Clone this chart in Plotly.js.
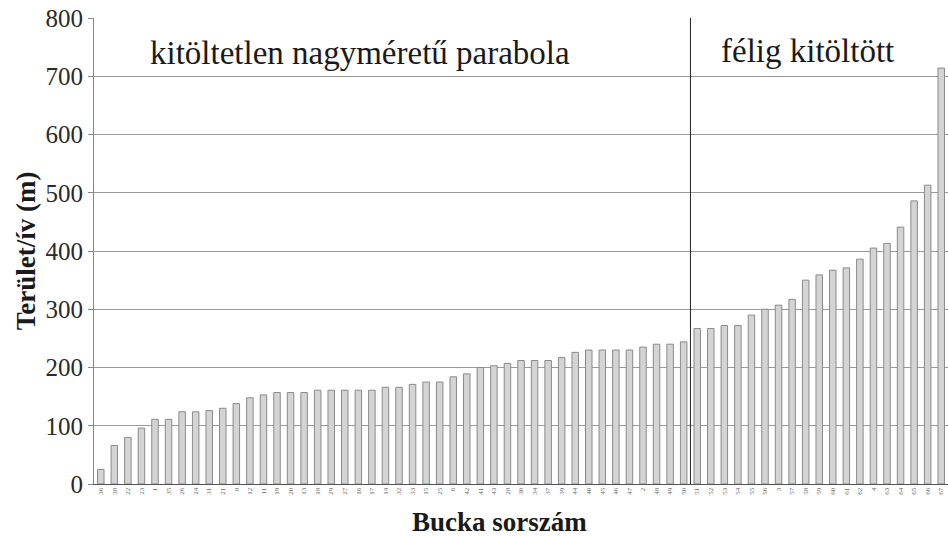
<!DOCTYPE html>
<html>
<head>
<meta charset="utf-8">
<script src="https://cdn.plot.ly/plotly-3.0.1.min.js"></script>
<style>
  html, body { margin: 0; padding: 0; background: #ffffff; }
  #chart { width: 948px; height: 536px; }
</style>
</head>
<body>
<div id="chart"></div>
<script>
// Area / arc length (m) of each dune, sorted ascending within its group
const unfilledValues = [
  25, 66, 80, 96, 111, 111, 124, 124, 126, 130, 138, 148, 153, 157, 157,
  157, 161, 161, 161, 161, 161, 166, 166, 171, 175, 175, 184, 189, 200, 203,
  207, 212, 212, 212, 217, 226, 230, 230, 230, 230, 235, 240, 240, 244
];
const halfFilledValues = [
  267, 267, 272, 272, 290, 300, 307, 317, 350, 359, 367, 371, 386, 405, 413,
  441, 486, 513, 714
];

// Dune serial numbers shown under each bar
const duneIds = [
  36, 38, 22, 23, 1, 35, 26, 24, 31, 21, 8, 12, 11, 19, 20,
  13, 18, 29, 27, 16, 17, 14, 32, 33, 15, 25, 6, 42, 41, 43,
  28, 30, 34, 37, 39, 44, 40, 45, 46, 47, 2, 48, 49, 50,
  51, 52, 53, 54, 55, 56, 3, 57, 58, 59, 60, 61, 62, 4, 63, 64, 65, 66, 67
];

const groupLabels = ["kitöltetlen nagyméretű parabola", "félig kitöltött"];
const xTitle = "Bucka sorszám";
const yTitle = "Terület/ív (m)";
const yTickValues = [0, 100, 200, 300, 400, 500, 600, 700, 800];

const values = unfilledValues.concat(halfFilledValues);
const positions = values.map((_, i) => i);
const split = unfilledValues.length - 0.5;

const serif = "Liberation Serif, Times New Roman, serif";

const trace = {
  type: "bar",
  x: positions,
  y: values,
  marker: {
    color: "#d4d4d4",
    line: { color: "#8a8a8a", width: 1 }
  },
  hoverinfo: "y"
};

const layout = {
  width: 948,
  height: 536,
  margin: { l: 94, r: 0, t: 18, b: 52 },
  paper_bgcolor: "#ffffff",
  plot_bgcolor: "#ffffff",
  bargap: 0.52,
  showlegend: false,
  font: { family: serif, color: "#1a1a1a" },
  xaxis: {
    range: [-0.5, values.length - 0.5],
    tickmode: "array",
    tickvals: positions,
    ticktext: duneIds.map(String),
    tickangle: -90,
    tickfont: { size: 7, color: "#666666" },
    ticks: "",
    showgrid: false,
    zeroline: false,
    showline: true,
    linecolor: "#555555",
    linewidth: 1,
    fixedrange: true
  },
  yaxis: {
    range: [0, 800],
    tickmode: "array",
    tickvals: yTickValues,
    ticktext: yTickValues.map(String),
    tickfont: { family: serif, size: 25, color: "#2a2a2a" },
    ticks: "outside",
    ticklen: 5,
    tickcolor: "#888888",
    showgrid: true,
    gridcolor: "#9a9a9a",
    gridwidth: 1,
    zeroline: false,
    showline: true,
    linecolor: "#888888",
    linewidth: 1,
    fixedrange: true,
    title: {
      text: "<b>" + yTitle + "</b>",
      font: { family: serif, size: 27, color: "#1a1a1a" },
      standoff: 2
    }
  },
  shapes: [
    {
      type: "line",
      xref: "x", yref: "paper",
      x0: split, x1: split, y0: 0, y1: 1,
      line: { color: "#222222", width: 1 }
    }
  ],
  annotations: [
    {
      xref: "x", yref: "y",
      x: 19.1, y: 740,
      text: groupLabels[0],
      showarrow: false,
      font: { family: serif, size: 33, color: "#1a1a1a" }
    },
    {
      xref: "x", yref: "y",
      x: split + halfFilledValues.length / 2 - 0.9, y: 743,
      text: groupLabels[1],
      showarrow: false,
      font: { family: serif, size: 33, color: "#1a1a1a" }
    },
    {
      xref: "paper", yref: "paper",
      x: 0.475, y: -0.082,
      xanchor: "center", yanchor: "middle",
      text: "<b>" + xTitle + "</b>",
      showarrow: false,
      font: { family: serif, size: 27, color: "#1a1a1a" }
    }
  ]
};

Plotly.newPlot("chart", [trace], layout, { displayModeBar: false, staticPlot: true });
</script>
</body>
</html>
